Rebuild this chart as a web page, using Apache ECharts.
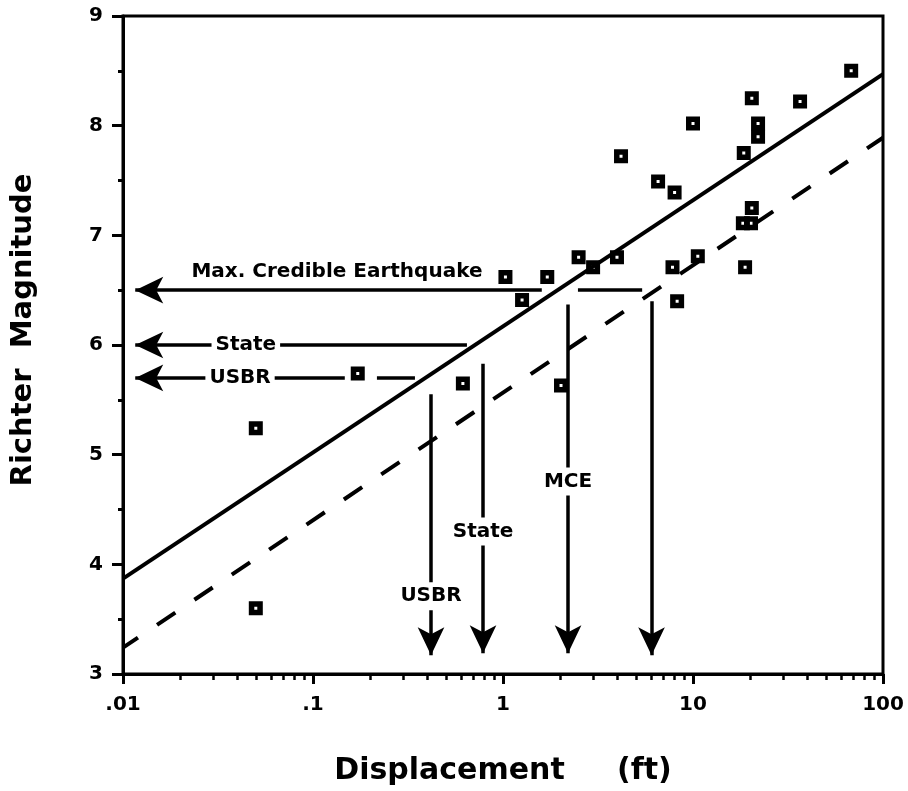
<!DOCTYPE html>
<html>
<head>
<meta charset="utf-8">
<script src="https://cdn.jsdelivr.net/npm/echarts@6/dist/echarts.min.js"></script>
<style>
html, body { margin: 0; padding: 0; background: #fff; }
#chart { width: 908px; height: 791px; }
</style>
</head>
<body>
<div id="chart"></div>
<script>
// ---- data ----
const displacement = [0.05, 0.05, 0.172, 0.615, 1.03, 1.26, 1.71, 2.02, 2.5, 2.98, 3.98, 4.18, 6.55, 8.0, 7.8, 8.25, 10, 10.6, 18.5, 20.4, 22, 22, 20.4, 18.3, 20.2, 18.8, 36.6, 68];
const magnitude    = [5.24, 3.6, 5.74, 5.65, 6.62, 6.41, 6.62, 5.63, 6.8, 6.71, 6.8, 7.72, 7.49, 7.39, 6.71, 6.4, 8.02, 6.81, 7.75, 8.25, 8.02, 7.9, 7.25, 7.11, 7.11, 6.71, 8.22, 8.5];

const xTickValues = [0.01, 0.1, 1, 10, 100];
const xTickLabels = ['.01', '.1', '1', '10', '100'];

const fitSolid  = [[0.01, 3.87], [100, 8.47]];
const fitDashed = [[0.01, 3.24], [100, 7.89]];

// horizontal arrows: [from displacement, to displacement (arrow tip), magnitude]
const horizontalArrows = [[1.60, 0.0116, 6.5], [0.646, 0.0116, 6.0], [0.147, 0.0116, 5.7]];
// vertical arrows: [displacement, from magnitude, to magnitude (arrow tip)]
const verticalArrows = [[0.418, 5.55, 3.17], [0.785, 5.83, 3.19], [2.2, 6.37, 3.19], [6.05, 6.4, 3.17]];
// plain connector segments: [x1, y1, x2, y2]
const connectorSegments = [[2.48, 6.5, 5.4, 6.5], [0.217, 5.7, 0.344, 5.7]];

const annotationTexts = ['Max. Credible Earthquake', 'State', 'USBR', 'USBR', 'State', 'MCE'];
const annotationX = [0.1337, 0.0443, 0.0413, 0.418, 0.785, 2.2];
const annotationY = [6.67, 6.0, 5.7, 3.71, 4.3, 4.755];

// ---- chart ----
const FONT = 'DejaVu Sans';
const minorLogTicks = [];
for (let d = -2; d < 2; d++) {
  for (let k = 2; k <= 9; k++) minorLogTicks.push(d + Math.log10(k));
}

const points = displacement.map((d, i) => [d, magnitude[i]]);
const boxSymbol = 'path://M0,0H14V14H0Z M5.5,5.5V8.5H8.5V5.5Z';

const arrowLines = horizontalArrows.map(a => [{ coord: [a[0], a[2]] }, { coord: [a[1], a[2]] }])
  .concat(verticalArrows.map(a => [{ coord: [a[0], a[1]] }, { coord: [a[0], a[2]] }]));
const plainLines = connectorSegments.map(s => [{ coord: [s[0], s[1]] }, { coord: [s[2], s[3]] }]);

const annotations = annotationTexts.map((t, i) => ({
  value: [annotationX[i], annotationY[i]],
  name: t,
  label: i === 0 ? { backgroundColor: 'transparent', padding: 0 } : {}
}));

const chart = echarts.init(document.getElementById('chart'), null, { renderer: 'canvas' });
chart.setOption({
  animation: false,
  backgroundColor: '#fff',
  grid: { left: 123, right: 25, top: 16, bottom: 115, show: true, borderColor: '#000', borderWidth: 3, backgroundColor: 'transparent' },
  xAxis: [
    {
      type: 'log', logBase: 10, min: 0.01, max: 100,
      axisLine: { onZero: false, lineStyle: { color: '#000', width: 3 } },
      axisTick: { show: true, length: 10, lineStyle: { color: '#000', width: 3 } },
      axisLabel: {
        color: '#000', fontFamily: FONT, fontWeight: 'bold', fontSize: 20, margin: 21,
        formatter: v => {
          const i = xTickValues.findIndex(t => Math.abs(t - v) / t < 1e-6);
          return i >= 0 ? xTickLabels[i] : '';
        }
      },
      splitLine: { show: false },
      name: 'Displacement     (ft)', nameLocation: 'middle', nameGap: 82,
      nameTextStyle: { color: '#000', fontFamily: FONT, fontWeight: 'bold', fontSize: 30 }
    },
    {
      type: 'value', min: -2, max: 2, position: 'bottom',
      axisLine: { show: false, onZero: false },
      axisLabel: { show: false },
      splitLine: { show: false },
      axisTick: { show: true, length: 6, customValues: minorLogTicks, lineStyle: { color: '#000', width: 2.5 } }
    }
  ],
  yAxis: {
    type: 'value', min: 3, max: 9, interval: 1,
    axisLine: { show: true, onZero: false, lineStyle: { color: '#000', width: 3 } },
    axisTick: { show: true, length: 11, lineStyle: { color: '#000', width: 3 } },
    minorTick: { show: true, splitNumber: 2, length: 5, lineStyle: { color: '#000', width: 3 } },
    axisLabel: { color: '#000', fontFamily: FONT, fontWeight: 'bold', fontSize: 20, margin: 20 },
    splitLine: { show: false }
  },
  graphic: [{
    type: 'text', x: 23, y: 330, rotation: Math.PI / 2,
    style: { text: 'Richter  Magnitude', fill: '#000', font: 'bold 29px "DejaVu Sans"', align: 'center', verticalAlign: 'middle' }
  }],
  series: [
    {
      name: 'Earthquakes', type: 'scatter', data: points, z: 3,
      symbol: boxSymbol, symbolSize: 14,
      itemStyle: { color: '#000', opacity: 1 }, silent: true
    },
    {
      name: 'Fit', type: 'line', data: fitSolid, symbol: 'none', z: 4,
      lineStyle: { color: '#000', width: 4 }, silent: true
    },
    {
      name: 'Fit (lower)', type: 'line', data: fitDashed, symbol: 'none', z: 4,
      lineStyle: { color: '#000', width: 4, type: [22, 23], dashOffset: 4 }, silent: true
    },
    {
      name: 'Arrows', type: 'line', data: [], z: 5, silent: true,
      markLine: {
        silent: true, animation: false,
        symbol: ['none', 'arrow'], symbolSize: [20, 28],
        label: { show: false },
        lineStyle: { color: '#000', width: 3.5, type: 'solid', opacity: 1 },
        itemStyle: { color: '#000' },
        emphasis: { disabled: true },
        data: arrowLines
      }
    },
    {
      name: 'Connectors', type: 'line', data: [], z: 5, silent: true,
      markLine: {
        silent: true, animation: false,
        symbol: ['none', 'none'],
        label: { show: false },
        lineStyle: { color: '#000', width: 3.5, type: 'solid', opacity: 1 },
        emphasis: { disabled: true },
        data: plainLines
      }
    },
    {
      name: 'Annotations', type: 'scatter', data: annotations, z: 10, silent: true,
      symbolSize: 1, itemStyle: { color: 'rgba(0,0,0,0)', opacity: 1 },
      label: {
        show: true, position: 'inside', formatter: p => p.name,
        color: '#000', fontFamily: FONT, fontWeight: 'bold', fontSize: 20,
        backgroundColor: '#fff', padding: [4, 4]
      }
    }
  ]
});
</script>
</body>
</html>
